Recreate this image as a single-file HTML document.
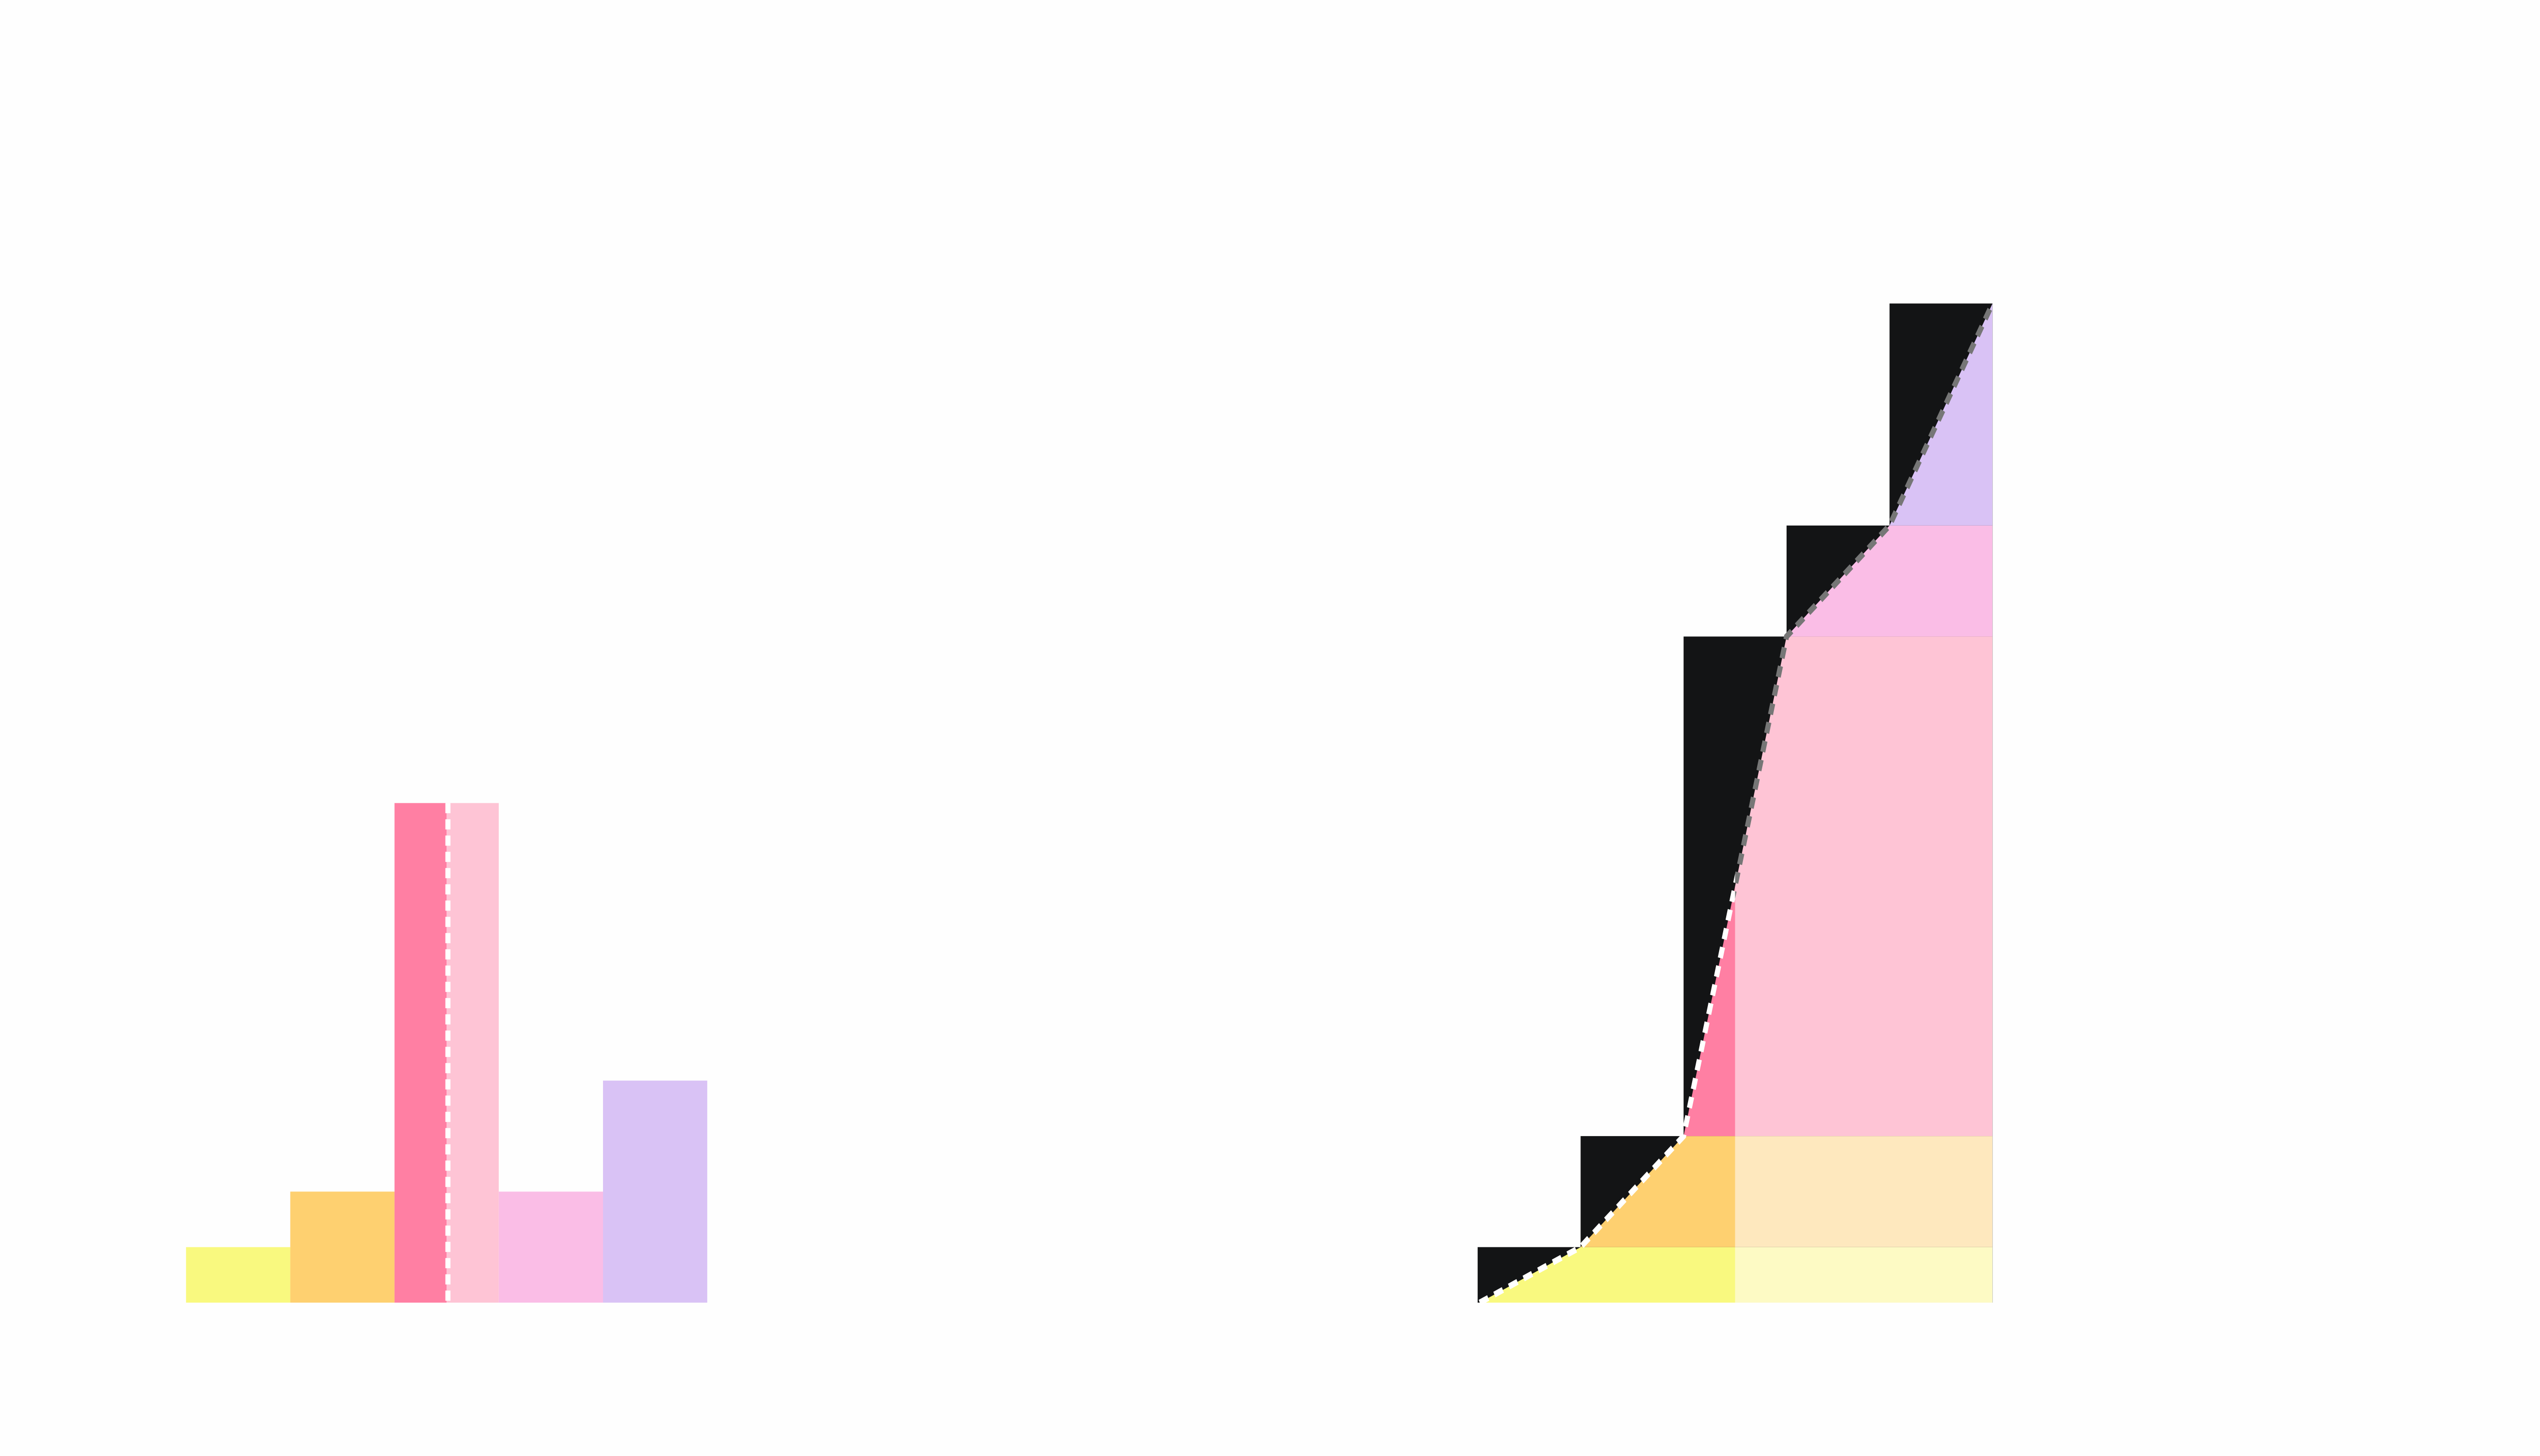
<!DOCTYPE html>
<html><head><meta charset="utf-8"><style>
html,body{margin:0;padding:0;background:#fefefe;width:100%;height:100%;overflow:hidden;}
svg{display:block;position:fixed;left:0;top:0;width:100vw;height:100vh;}
</style></head><body>
<svg id="chart" viewBox="0 0 5994 2867" preserveAspectRatio="none" xmlns="http://www.w3.org/2000/svg">
<rect x="0" y="0" width="5994" height="2867" fill="#fefefe"/>
<g id="left"></g>
<g id="right"></g>
</svg>
<script>
const categories = ["bin-1","bin-2","bin-3","bin-4","bin-5"];
const counts = [1, 2, 9, 2, 4];
const medianBinIndex = 2;
const medianFraction = 0.5;
const binColors = ["#f9f97f","#fed070","#fec4d5","#fabde6","#d9c2f5"];
const lightColors = ["#fdfac4","#fee8be","#fec4d5","#fabde6","#d9c2f5"];
const medianDark = "#ff7fa3";

const NS = "http://www.w3.org/2000/svg";
const baseY = 2565, unit = 109.3, binW = 246, rbinW = 243;
const leftX0 = 439, rightX0 = 3487;
function yv(v){ return baseY - v*unit; }
function lx(i){ return leftX0 + i*binW; }
function rx(i){ return rightX0 + i*rbinW; }
function mk(tag, attrs, parent){
  const e = document.createElementNS(NS, tag);
  for (const k in attrs) e.setAttribute(k, attrs[k]);
  parent.appendChild(e); return e;
}
const L = document.getElementById('left');
const R = document.getElementById('right');
const cum = []; counts.reduce((a,c,i)=>{cum[i]=a+c; return cum[i];},0);

counts.forEach((c,i)=>{
  if (i === medianBinIndex){
    const xm = lx(i) + binW*medianFraction;
    const a = mk('rect',{x:lx(i),y:yv(c),width:xm-lx(i),height:c*unit,fill:medianDark},L);
    
    
    const b = mk('rect',{x:xm,y:yv(c),width:lx(i+1)-xm,height:c*unit,fill:binColors[i]},L);
    
    
    const m = mk('line',{x1:xm+3,y1:yv(c),x2:xm+3,y2:baseY,stroke:'#ffffff','stroke-width':12,'stroke-dasharray':'20 12'},L);
    
    
  } else {
    const r = mk('rect',{x:lx(i),y:yv(c),width:binW,height:c*unit,fill:binColors[i]},L);
    
    
  }
});

cum.forEach((c,i)=>{
  const r = mk('rect',{x:rx(i),y:yv(c),width:rbinW,height:c*unit,fill:'#131415'},R);
  
  
});
const pts = [[rx(0)+5, yv(0)]];
cum.forEach((c,i)=>pts.push([rx(i+1), yv(c)]));
const defs = mk('defs',{},R);
const cp = mk('clipPath',{id:'under'},defs);
mk('polygon',{points: pts.map(p=>p.join(',')).join(' ')+' '+rx(counts.length)+','+baseY},cp);
const xMed = rx(medianBinIndex) + rbinW*medianFraction;
const bands = mk('g',{'clip-path':'url(#under)'},R);


counts.forEach((c,i)=>{
  const lo = i===0?0:cum[i-1], hi = cum[i];
  const leftColor = i===medianBinIndex ? medianDark : binColors[i];
  const a = mk('rect',{x:rx(0),y:yv(hi),width:xMed-rx(0),height:(hi-lo)*unit,fill:leftColor},bands);
  
  
  const b = mk('rect',{x:xMed,y:yv(hi),width:rx(counts.length)-xMed,height:(hi-lo)*unit,fill:lightColors[i]},bands);
  
  
});
const cpl = mk('clipPath',{id:'leftOfMed'},defs);
mk('rect',{x:0,y:0,width:xMed,height:2867},cpl);
const cpr = mk('clipPath',{id:'rightOfMed'},defs);
mk('rect',{x:xMed,y:0,width:5994-xMed,height:2867},cpr);
const d = pts.map(p=>p.join(',')).join(' ');
const l1 = mk('polyline',{points:d,fill:'none',stroke:'#ffffff','stroke-width':12,'stroke-dasharray':'22 16','clip-path':'url(#leftOfMed)'},R);


const l2 = mk('polyline',{points:d,fill:'none',stroke:'#767676','stroke-width':12,'stroke-dasharray':'22 16','clip-path':'url(#rightOfMed)'},R);


</script>
</body></html>
